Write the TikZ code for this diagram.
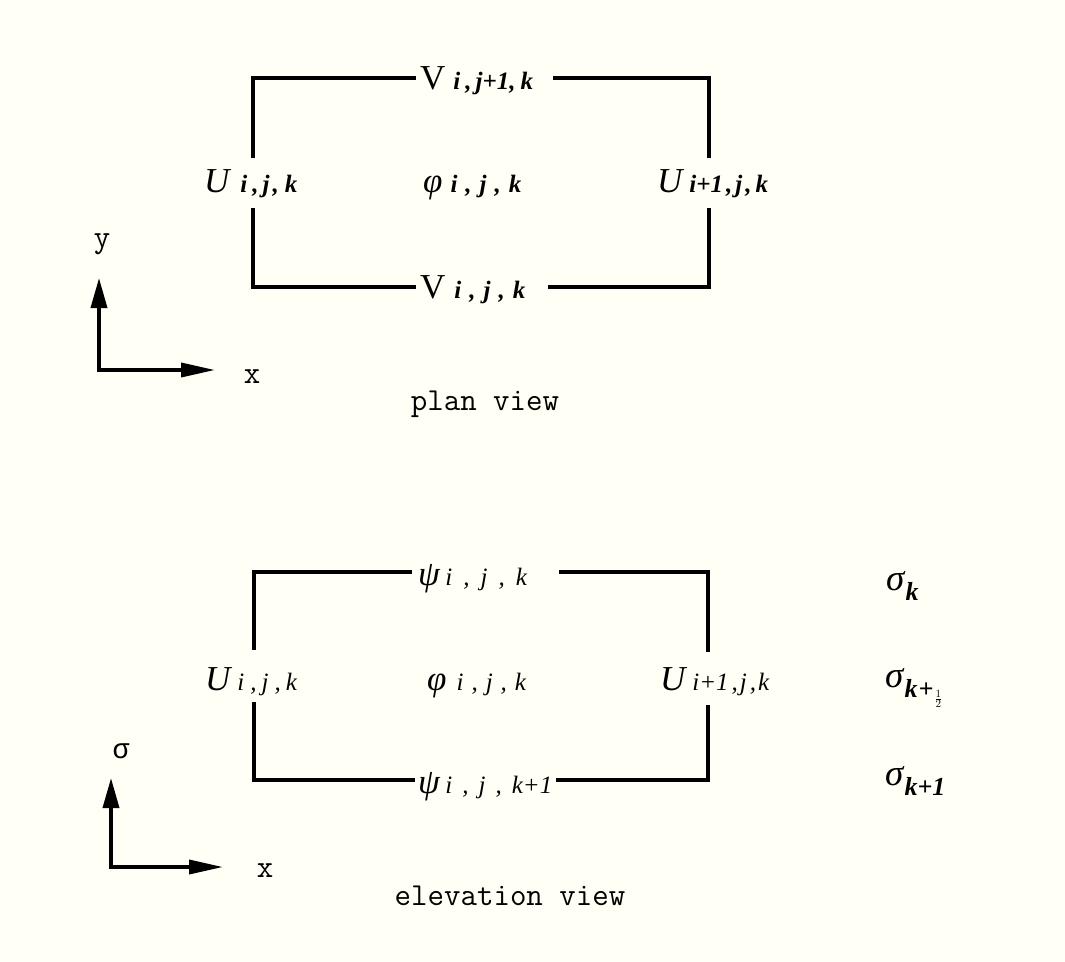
\documentclass[tikz,border=0pt]{standalone}
\usepackage{fontspec}
\setmainfont{Liberation Serif}
\newfontfamily\monog{Liberation Mono}
\usetikzlibrary{arrows.meta}
\definecolor{bgc}{RGB}{255,255,245}
\newcommand\Lg{\fontsize{35}{35}\selectfont}
\newcommand\Sb[1]{{\fontsize{25}{25}\selectfont\bfseries\itshape #1}}
\newcommand\Se[1]{{\fontsize{25}{25}\selectfont\itshape #1}}
\newcommand\Ss[1]{\raisebox{-10pt}{\fontsize{26}{26}\selectfont\bfseries\itshape #1}}
\newcommand\g[1]{\hspace{#1pt}}
\newcommand\halff{\raisebox{-6pt}{\fontsize{15}{15}\selectfont$\frac{1}{2}$}}
\begin{document}
\begin{tikzpicture}[x=1pt,y=-1pt,
  edge/.style={line width=3.6pt,line cap=butt,line join=miter},
  axis/.style={line width=3.6pt,{Triangle[length=30pt,width=16pt]}-{Triangle[length=34pt,width=14pt]}},
  lbl/.style={inner sep=0pt,anchor=base west,font=\Lg},
  mlbl/.style={inner sep=0pt,anchor=base,font=\ttfamily\fontsize{32}{32}\selectfont}]
\fill[bgc] (0,0) rectangle (1065,961);
\useasboundingbox (0,0) rectangle (1065,961);
% ---------- plan view ----------
\node[lbl] (pVt) at (420,89) {V\g{8}\Sb{i\g{5},\g{4}j+1,\g{5}k}};
\node[lbl] (pVb) at (420,298) {V\g{9}\Sb{i\g{8},\g{8}j\g{8},\g{8}k}};
\node[lbl] (pUl) at (204,192) {\textit{U}\g{9}\Sb{i\g{5},\g{4}j\g{3},\g{6}k}};
\node[lbl] (pPhi) at (423,192) {\textit{φ}\g{8}\Sb{i\g{8},\g{8}j\g{8},\g{8}k}};
\node[lbl] (pUr) at (657,192) {\textit{U}\g{5}\Sb{i+1\g{3},\g{3}j\g{3},\g{4}k}};
\coordinate (pTL) at (416,78);  \coordinate (pLt) at (253,158);
\coordinate (pTR) at (553,78);  \coordinate (pRt) at (709,158);
\coordinate (pBL) at (416,287); \coordinate (pLb) at (253,208);
\coordinate (pBR) at (548,287); \coordinate (pRb) at (709,208);
\draw[edge] (pTL) -| (pLt);
\draw[edge] (pTR) -| (pRt);
\draw[edge] (pBL) -| (pLb);
\draw[edge] (pBR) -| (pRb);
\coordinate (pO) at (99,370); \coordinate (pYt) at (99,278); \coordinate (pXt) at (215,370);
\draw[axis] (pYt) -- (pO) -- (pXt);
\node[mlbl] (pYl) at (102,247) {y};
\node[mlbl] (pXl) at (252,383) {x};
\node[mlbl] (pTitle) at (485,410) {plan view};
% ---------- elevation view ----------
\node[lbl] (ePt) at (418,585) {\textit{ψ}\g{5}\Se{i\g{11},\g{11}j\g{11},\g{11}k}};
\node[lbl] (ePb) at (418,793) {\textit{ψ}\g{5}\Se{i\g{10},\g{10}j\g{10},\g{10}k+1}};
\node[lbl] (eUl) at (205,690) {\textit{U}\g{5}\Se{i\g{6},\g{5}j\g{6},\g{5}k}};
\node[lbl] (ePhi) at (427,690) {\textit{φ}\g{10}\Se{i\g{8},\g{8}j\g{8},\g{8}k}};
\node[lbl] (eUr) at (660,690) {\textit{U}\g{5}\Se{i+1\g{3},\g{2}j\g{3},\g{2}k}};
\node[lbl,font=\fontsize{37}{37}\selectfont] (eS1) at (886,590) {\textit{σ}\Ss{k}};
\node[lbl,font=\fontsize{37}{37}\selectfont] (eS2) at (885,687) {\textit{σ}\Ss{k\kern1pt+\kern1pt\halff}};
\node[lbl,font=\fontsize{37}{37}\selectfont] (eS3) at (885,785) {\textit{σ}\Ss{k+1}};
\coordinate (eTL) at (412,572); \coordinate (eLt) at (254,650);
\coordinate (eTR) at (559,572); \coordinate (eRt) at (708,652);
\coordinate (eBL) at (415,780); \coordinate (eLb) at (254,702);
\coordinate (eBR) at (556,780); \coordinate (eRb) at (708,705);
\draw[edge] (eTL) -| (eLt);
\draw[edge] (eTR) -| (eRt);
\draw[edge] (eBL) -| (eLb);
\draw[edge] (eBR) -| (eRb);
\coordinate (eO) at (111,867); \coordinate (eYt) at (111,778); \coordinate (eXt) at (223,867);
\draw[axis] (eYt) -- (eO) -- (eXt);
\node[mlbl,font=\monog\fontsize{28}{28}\selectfont] (eYl) at (121,758) {σ};
\node[mlbl] (eXl) at (265,877) {x};
\node[mlbl] (eTitle) at (510,905) {elevation view};
\end{tikzpicture}
\end{document}
